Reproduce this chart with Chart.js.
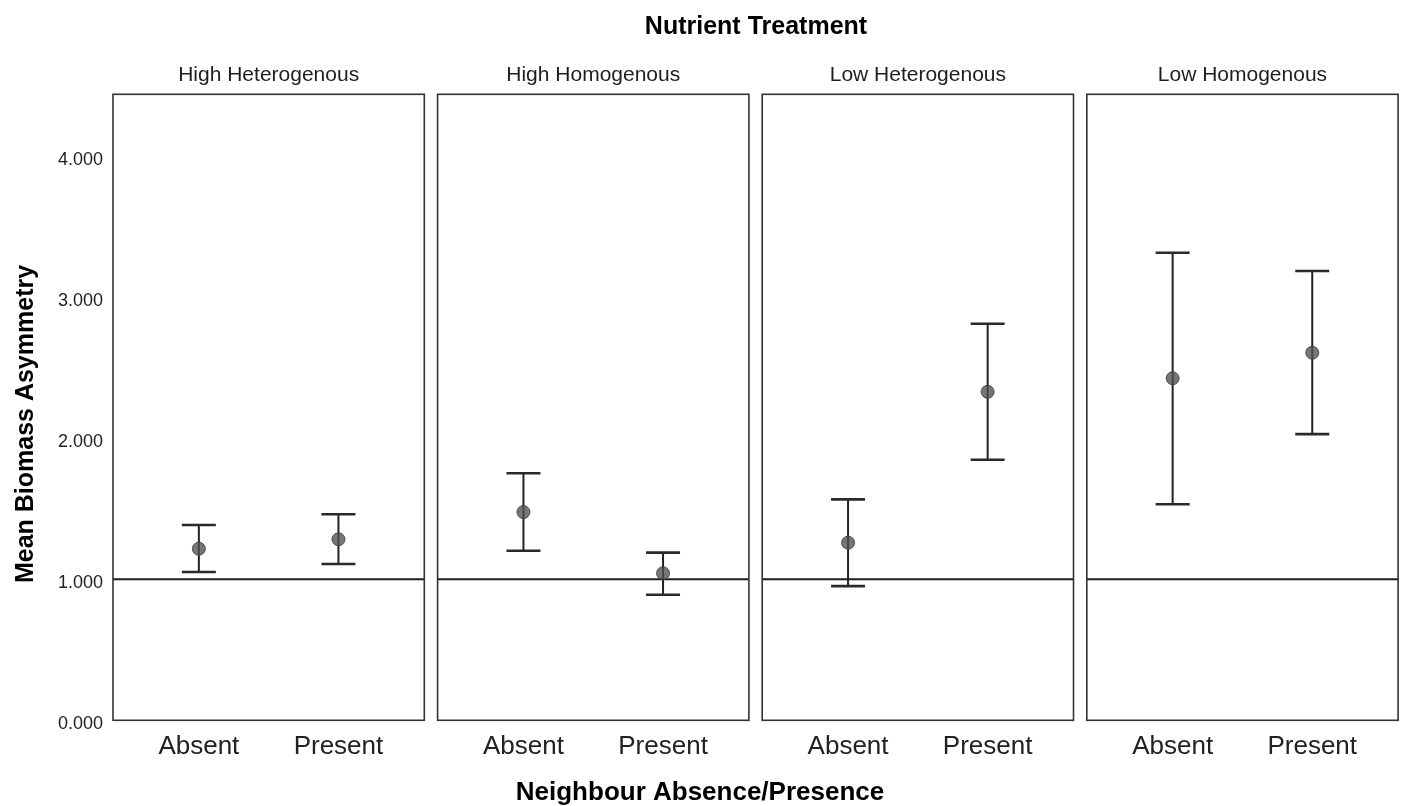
<!DOCTYPE html>
<html>
<head>
<meta charset="utf-8">
<title>Mean Biomass Asymmetry by Nutrient Treatment</title>
<script src="https://cdn.jsdelivr.net/npm/chart.js@4.4.1/dist/chart.umd.min.js"></script>
<style>
  html, body { margin: 0; padding: 0; background: #ffffff; }
  #wrap { position: relative; width: 1403px; height: 806px; overflow: hidden; background: #ffffff; }
  #wrap canvas { position: absolute; left: 0; top: 0; }
</style>
</head>
<body>
<div id="wrap">
  <canvas id="panel0" width="1403" height="806"></canvas>
  <canvas id="panel1" width="1403" height="806"></canvas>
  <canvas id="panel2" width="1403" height="806"></canvas>
  <canvas id="panel3" width="1403" height="806"></canvas>
</div>
<script>
// ---- data -------------------------------------------------------------
const treatments = ['High Heterogenous', 'High Homogenous', 'Low Heterogenous', 'Low Homogenous'];
const categories = ['Absent', 'Present'];

// mean biomass asymmetry and error-bar limits, one entry per treatment
const absentMean  = [1.217, 1.477, 1.260, 2.426];
const absentLow   = [1.052, 1.203, 0.952, 1.532];
const absentHigh  = [1.385, 1.752, 1.567, 3.316];
const presentMean = [1.284, 1.043, 2.330, 2.607];
const presentLow  = [1.109, 0.891, 1.848, 2.030];
const presentHigh = [1.461, 1.189, 2.813, 3.187];

const yTicks = [0, 1, 2, 3, 4];
const referenceLevel = 1;

// ---- layout -----------------------------------------------------------
const W = 1403, H = 806;
const panelLeft = [113, 437.6, 762.2, 1086.8];
const panelWidth = 311.3;
const areaTop = 94.3, areaBottom = 720.3;
const yMax = 4.44;
const xMin = -0.615, xMax = 1.615;
const xAxisHeight = 60;
const FONT = "'Liberation Sans', Arial, Helvetica, sans-serif";
const INK = '#1e1e1e';

Chart.defaults.font.family = FONT;
Chart.defaults.color = INK;

// frame around each panel plus its treatment heading
const panelDecor = {
  id: 'panelDecor',
  afterDatasetsDraw(chart, args, opts) {
    const { ctx, chartArea: a } = chart;
    ctx.save();
    ctx.strokeStyle = '#333333';
    ctx.lineWidth = 1.6;
    ctx.strokeRect(a.left, a.top, a.right - a.left, a.bottom - a.top);
    ctx.fillStyle = INK;
    ctx.font = '21px ' + FONT;
    ctx.textAlign = 'center';
    ctx.textBaseline = 'middle';
    ctx.fillText(opts.heading, (a.left + a.right) / 2, 75);
    ctx.restore();
  }
};

// overall titles shared by the four panels
const figureTitles = {
  id: 'figureTitles',
  afterDraw(chart) {
    const ctx = chart.ctx;
    ctx.save();
    ctx.fillStyle = '#000000';
    ctx.textAlign = 'center';
    ctx.textBaseline = 'middle';
    ctx.font = 'bold 25px ' + FONT;
    ctx.fillText('Nutrient Treatment', 756, 27);
    ctx.font = 'bold 26px ' + FONT;
    ctx.fillText('Neighbour Absence/Presence', 700, 793);
    ctx.translate(26, 424);
    ctx.rotate(-Math.PI / 2);
    ctx.font = 'bold 25px ' + FONT;
    ctx.fillText('Mean Biomass Asymmetry', 0, 0);
    ctx.restore();
  }
};

function buildPanel(i) {
  const showY = i === 0;
  const means = [
    { x: 0, y: absentMean[i] },
    { x: 1, y: presentMean[i] }
  ];
  const whiskers = [
    { x: 0, y: absentLow[i] }, { x: 0, y: absentHigh[i] },
    { x: 0.5, y: null },
    { x: 1, y: presentLow[i] }, { x: 1, y: presentHigh[i] }
  ];
  const caps = [
    { x: 0, y: absentLow[i] }, { x: 0, y: absentHigh[i] },
    { x: 1, y: presentLow[i] }, { x: 1, y: presentHigh[i] }
  ];
  const refLine = [{ x: xMin, y: referenceLevel }, { x: xMax, y: referenceLevel }];

  const left = panelLeft[i];
  return new Chart(document.getElementById('panel' + i), {
    type: 'scatter',
    data: {
      datasets: [
        {
          type: 'scatter', data: means, order: 0,
          pointRadius: 6.5, pointStyle: 'circle',
          backgroundColor: 'rgba(80,80,80,0.78)',
          borderColor: 'rgba(60,60,60,0.85)', borderWidth: 1
        },
        {
          type: 'scatter', data: caps, order: 1,
          pointStyle: 'line', pointRadius: 17,
          borderColor: '#2a2a2a', borderWidth: 2.6
        },
        {
          type: 'line', data: whiskers, order: 2,
          borderColor: '#222222', borderWidth: 2,
          pointRadius: 0, spanGaps: false, fill: false
        },
        {
          type: 'line', data: refLine, order: 3,
          borderColor: '#1e1e1e', borderWidth: 2,
          pointRadius: 0, fill: false
        }
      ]
    },
    options: {
      responsive: false,
      devicePixelRatio: 1,
      animation: false,
      events: [],
      layout: {
        autoPadding: false,
        padding: {
          left: showY ? 0 : left,
          right: W - (left + panelWidth),
          top: areaTop,
          bottom: H - areaBottom - xAxisHeight
        }
      },
      plugins: {
        legend: { display: false },
        tooltip: { enabled: false },
        title: { display: false },
        panelDecor: { heading: treatments[i] }
      },
      scales: {
        x: {
          type: 'linear',
          min: xMin, max: xMax,
          grid: { display: false, drawTicks: false },
          border: { display: false },
          afterFit: s => { s.height = xAxisHeight; },
          afterBuildTicks: s => { s.ticks = categories.map((c, k) => ({ value: k })); },
          ticks: {
            padding: 11,
            font: { size: 26 },
            color: '#222222',
            callback: v => categories[v]
          }
        },
        y: {
          type: 'linear',
          display: showY,
          min: 0, max: yMax,
          grid: { display: false, drawTicks: false },
          border: { display: false },
          afterFit: s => { s.width = showY ? panelLeft[0] : 0; },
          afterBuildTicks: s => { s.ticks = yTicks.map(v => ({ value: v })); },
          ticks: {
            padding: 10,
            labelOffset: 4,
            font: { size: 18 },
            color: '#222222',
            callback: v => Number(v).toFixed(3)
          }
        }
      }
    },
    plugins: showY ? [panelDecor, figureTitles] : [panelDecor]
  });
}

treatments.forEach((t, i) => buildPanel(i));
</script>
</body>
</html>
